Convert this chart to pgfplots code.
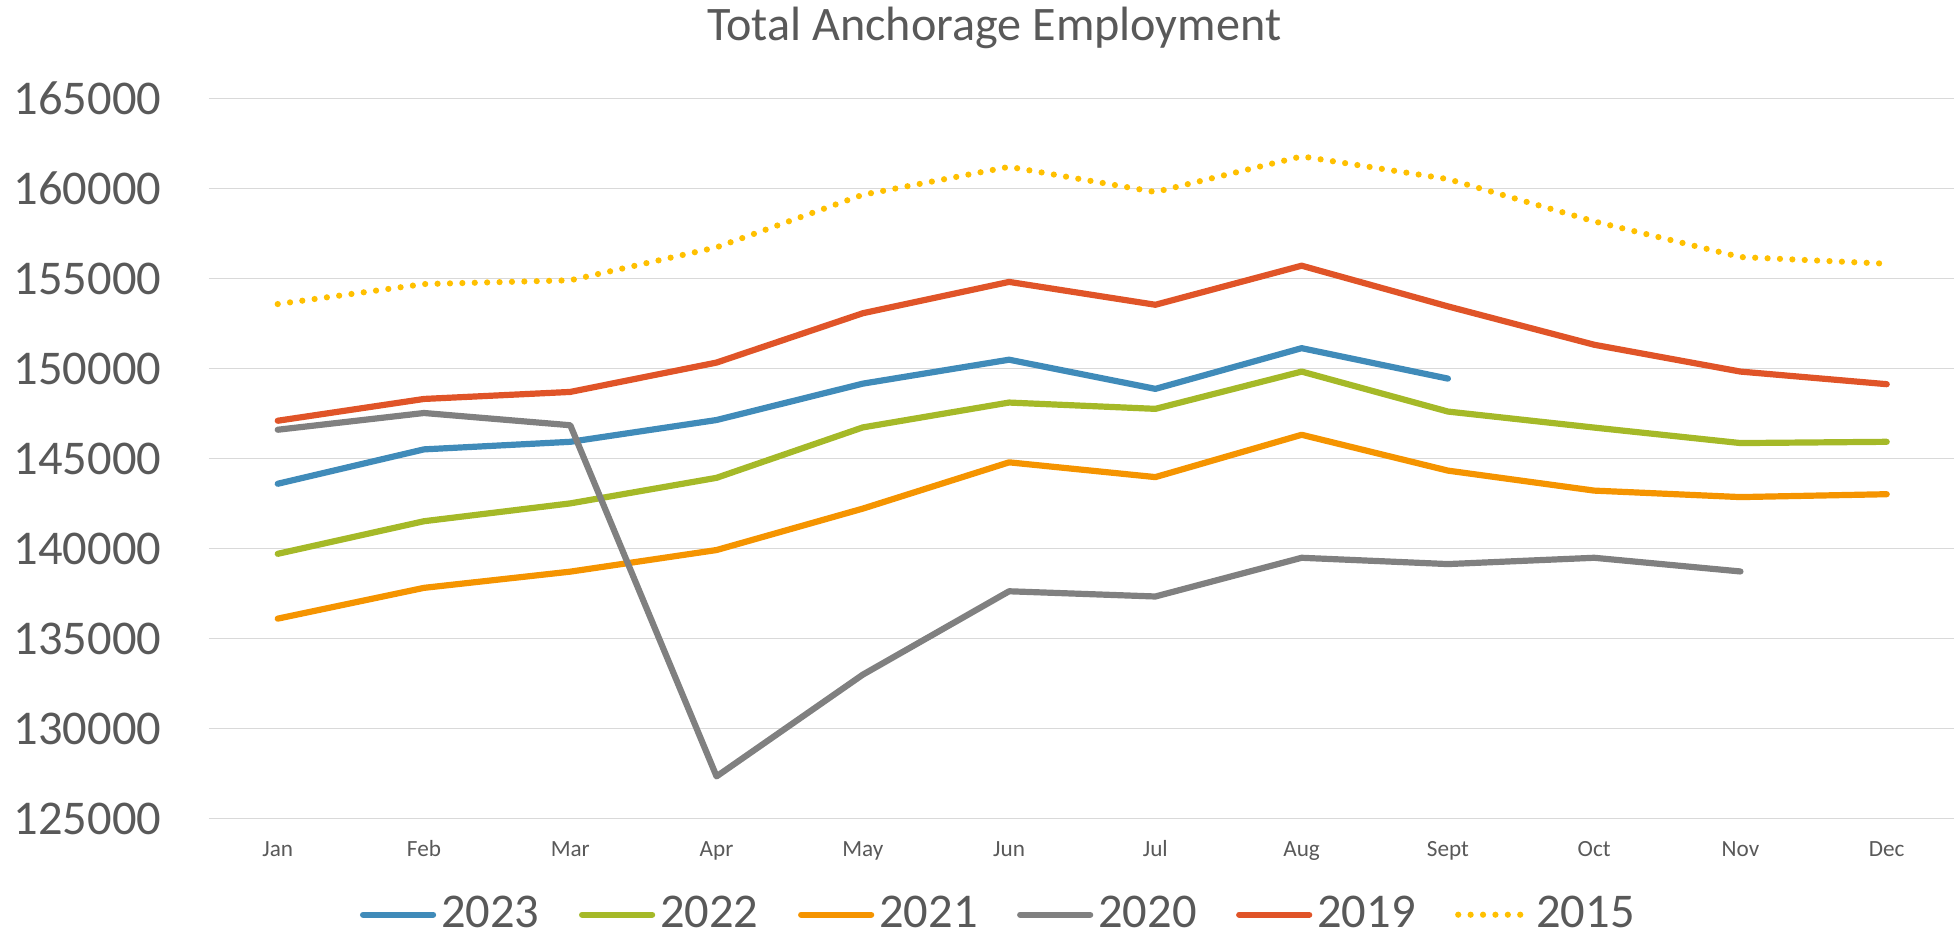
\documentclass[border=0pt]{standalone}
\usepackage{pgfplots}
\pgfplotsset{compat=1.18}
\usepackage{fontspec}
\setmainfont{Carlito}

\definecolor{textgray}{HTML}{595959}
\definecolor{gridgray}{HTML}{D9D9D9}
\definecolor{c2023}{RGB}{64,139,185}
\definecolor{c2022}{RGB}{165,185,40}
\definecolor{c2021}{RGB}{245,148,0}
\definecolor{c2020}{RGB}{128,128,128}
\definecolor{c2019}{RGB}{224,84,40}
\definecolor{c2015}{HTML}{FFC000}

\begin{document}
\begin{tikzpicture}
\useasboundingbox (-20.9mm,-11.7mm) rectangle (174.5mm,81.87mm);
\begin{axis}[
    at={(0,0)}, anchor=south west,
    scale only axis,
    width=174.5mm, height=72.03mm,
    xmin=0.53, xmax=12.46,
    ymin=125000, ymax=165000,
    axis line style={draw=none},
    major tick length=0pt,
    xtick={1,...,12},
    xticklabels={Jan,Feb,Mar,Apr,May,Jun,Jul,Aug,Sept,Oct,Nov,Dec},
    ytick={125000,130000,135000,140000,145000,150000,155000,160000,165000},
    yticklabels={125000,130000,135000,140000,145000,150000,155000,160000,165000},
    scaled y ticks=false,
    ymajorgrids,
    grid style={color=gridgray, line width=0.13mm},
    yticklabel style={font=\fontsize{13.8}{16}\selectfont, color=textgray, anchor=east, inner sep=0pt, xshift=-4.7mm},
    xticklabel style={font=\fontsize{6.6}{8}\selectfont, color=textgray, anchor=base, inner sep=0pt, yshift=-3.8mm},
    title={Total Anchorage Employment},
    every axis title shift=0pt,
    title style={at={(axis description cs:0.45,1)}, anchor=base, yshift=5.75mm, inner sep=0pt,
        font=\fontsize{13.7}{16}\selectfont, color=textgray},
    legend columns=-1,
    legend style={at={(axis description cs:0.4532,0)}, anchor=center, yshift=-9.6mm,
        draw=none, fill=none, font=\fontsize{13.8}{16}\selectfont, text=textgray,
        nodes={inner sep=0.5mm},
        /tikz/every even column/.append style={column sep=3.45mm}},
    legend image code/.code={\draw[#1] (0mm,0mm) -- (7mm,0mm);},
    every axis plot/.append style={line width=0.62mm, line cap=round, line join=round},
]
% 2023
\addplot[color=c2023] coordinates {
(1,143600) (2,145510) (3,145930) (4,147140) (5,149160) (6,150490)
(7,148870) (8,151130) (9,149440)};
\addlegendentry{2023}
% 2022
\addplot[color=c2022] coordinates {
(1,139710) (2,141520) (3,142510) (4,143930) (5,146730) (6,148110)
(7,147760) (8,149830) (9,147610) (10,146720) (11,145860) (12,145930)};
\addlegendentry{2022}
% 2021
\addplot[color=c2021] coordinates {
(1,136110) (2,137820) (3,138720) (4,139920) (5,142220) (6,144790)
(7,143970) (8,146320) (9,144330) (10,143220) (11,142860) (12,143020)};
\addlegendentry{2021}
% 2020
\addplot[color=c2020] coordinates {
(1,146600) (2,147530) (3,146850) (4,127350) (5,133000) (6,137630)
(7,137340) (8,139490) (9,139140) (10,139490) (11,138730)};
\addlegendentry{2020}
% 2019
\addplot[color=c2019] coordinates {
(1,147100) (2,148310) (3,148700) (4,150330) (5,153070) (6,154810)
(7,153540) (8,155710) (9,153450) (10,151320) (11,149830) (12,149130)};
\addlegendentry{2019}
% 2015
\addplot[color=c2015, dash pattern=on 0pt off 1.24mm] coordinates {
(1,153580) (2,154690) (3,154900) (4,156730) (5,159650) (6,161200)
(7,159800) (8,161780) (9,160520) (10,158170) (11,156190) (12,155820)};
\addlegendentry{2015}
\end{axis}
\end{tikzpicture}
\end{document}
